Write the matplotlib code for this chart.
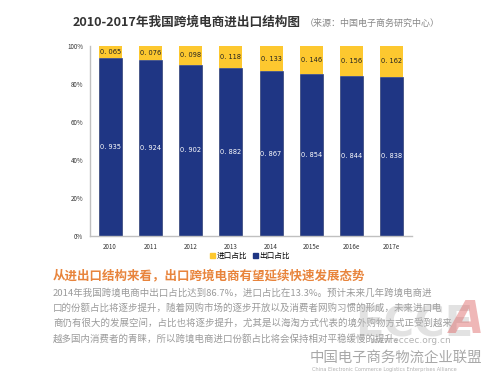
import matplotlib
matplotlib.use('Agg')
import matplotlib.pyplot as plt
from matplotlib.patches import Patch
from matplotlib.ticker import PercentFormatter

plt.rcParams['font.family'] = ['Noto Sans CJK SC', 'DejaVu Sans']
plt.rcParams['axes.unicode_minus'] = False

# 数据
years = ['2010', '2011', '2012', '2013', '2014', '2015e', '2016e', '2017e']
export_share = [0.935, 0.924, 0.902, 0.882, 0.867, 0.854, 0.844, 0.838]
import_share = [0.065, 0.076, 0.098, 0.118, 0.133, 0.146, 0.156, 0.162]

title_main = '2010-2017年我国跨境电商进出口结构图'
title_src = '（来源：中国电子商务研究中心）'
heading = '从进出口结构来看，出口跨境电商有望延续快速发展态势'
body_lines = [
    '2014年我国跨境电商中出口占比达到86.7%，进口占比在13.3%。预计未来几年跨境电商进',
    '口的份额占比将逐步提升，随着网购市场的逐步开放以及消费者网购习惯的形成，未来进口电',
    '商仍有很大的发展空间，占比也将逐步提升，尤其是以海淘方式代表的境外购物方式正受到越来',
    '越多国内消费者的青睐，所以跨境电商进口份额占比将会保持相对平稳缓慢的提升。',
]

NAVY = '#1f3684'
YELLOW = '#fdc82f'

fig = plt.figure(figsize=(5, 3.75), dpi=100)
ax = fig.add_axes([0.18, 0.3707, 0.644, 0.5067])

x = list(range(len(years)))
ax.bar(x, export_share, width=0.57, color=NAVY, edgecolor='#1a2a60', linewidth=0.4)
ax.bar(x, import_share, width=0.57, bottom=export_share, color=YELLOW, linewidth=0)

for i in x:
    ax.text(i, export_share[i] / 2, f'{export_share[i]:.3f}'.replace('.', '. '),
            ha='center', va='center', color='white', fontsize=4.8,
            family='DejaVu Sans')
    ax.text(i, export_share[i] + import_share[i] / 2,
            f'{import_share[i]:.3f}'.replace('.', '. '),
            ha='center', va='center', color='#222222', fontsize=4.8,
            family='DejaVu Sans')

ax.set_xlim(-0.5, len(years) - 0.5)
ax.set_ylim(0, 1)
ax.set_xticks(x)
ax.set_xticklabels(years)
ax.set_yticks([0, 0.2, 0.4, 0.6, 0.8, 1.0])
ax.yaxis.set_major_formatter(PercentFormatter(1.0, decimals=0))
ax.tick_params(length=0, labelsize=4.5, colors='#333333', pad=5)
for s in ['top', 'right']:
    ax.spines[s].set_visible(False)
for s in ['left', 'bottom']:
    ax.spines[s].set_color('#c0c0c0')
    ax.spines[s].set_linewidth(1.0)

handles = [Patch(color=YELLOW, label='进口占比'), Patch(color=NAVY, label='出口占比')]
fig.legend(handles=handles, loc='center', bbox_to_anchor=(0.5, 0.317), ncol=2,
           frameon=False, fontsize=5.5, handlelength=0.6, handleheight=0.6,
           handletextpad=0.2, columnspacing=0.8)

# 标题
fig.text(0.146, 0.941, title_main, ha='left', va='center', fontsize=9.1,
         color='#333333', fontweight='bold')
fig.text(0.61, 0.938, title_src, ha='left', va='center', fontsize=6.5,
         color='#888888')

# 文字说明
fig.text(0.106, 0.264, heading, ha='left', va='center', fontsize=9.0,
         color='#e8843c', fontweight='bold')
for k, line in enumerate(body_lines):
    fig.text(0.106, 0.219 - k * 0.0405, line, ha='left', va='center',
             fontsize=6.8, color='#9a9a9a')

# 水印
fig.text(0.71, 0.135, 'ECCE', ha='left', va='center', fontsize=30,
         color='#b8b8b8', alpha=0.4, fontweight='bold', family='DejaVu Sans')
fig.text(0.90, 0.145, 'A', ha='left', va='center', fontsize=32,
         color='#e07070', alpha=0.5, fontweight='bold', style='italic',
         family='DejaVu Sans')
fig.text(0.74, 0.093, 'www.eccec.org.cn', ha='left', va='center', fontsize=6.5,
         color='#a0a0a0', alpha=0.8, family='DejaVu Sans')
fig.text(0.62, 0.045, '中国电子商务物流企业联盟', ha='left', va='center',
         fontsize=10.4, color='#a8a8a8')
fig.text(0.624, 0.014, 'China Electronic Commerce Logistics Enterprises Alliance',
         ha='left', va='center', fontsize=3.6, color='#b0b0b0',
         family='DejaVu Sans')

fig.savefig('out.png', dpi=100)
